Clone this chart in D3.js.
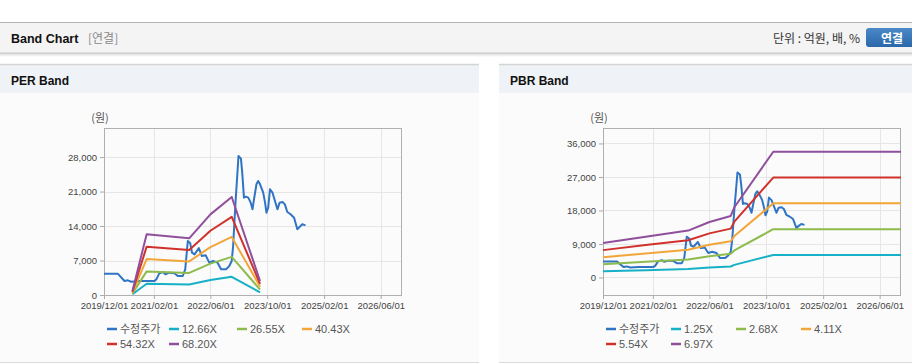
<!DOCTYPE html>
<html>
<head>
<meta charset="utf-8">
<script src="https://cdn.jsdelivr.net/npm/d3@7"></script>
<style>
  body { margin: 0; background: #fff; }
  svg { display: block; font-family: "Liberation Sans", Arial, "Noto Sans CJK KR", sans-serif; }
</style>
</head>
<body>
<svg width="912" height="364"></svg>
<script>
// ---- data ----
const xTickLabels = ["2019/12/01", "2021/02/01", "2022/06/01", "2023/10/01", "2025/02/01", "2026/06/01"];
const xDomain = ["2019-12-01", "2026-12-01"];

const priceDates = [
  "2019-12-01", "2020-03-28", "2020-05-25", "2020-06-22", "2020-07-22", "2020-10-01",
  "2021-02-07", "2021-02-22", "2021-03-19", "2021-04-19", "2021-05-10", "2021-06-13",
  "2021-07-28", "2021-08-25", "2021-10-07", "2021-10-28", "2021-11-19", "2021-12-10",
  "2021-12-25", "2022-01-16", "2022-02-22", "2022-03-19", "2022-04-22", "2022-05-22",
  "2022-06-25", "2022-08-01", "2022-09-01", "2022-10-13", "2022-11-10", "2022-12-01",
  "2022-12-13", "2023-01-01", "2023-01-28", "2023-02-18", "2023-03-01", "2023-03-16",
  "2023-04-01", "2023-04-22", "2023-05-13", "2023-05-28", "2023-06-10", "2023-07-01",
  "2023-07-16", "2023-08-01", "2023-08-28", "2023-09-13", "2023-09-25", "2023-10-10",
  "2023-10-25", "2023-11-16", "2023-12-07", "2023-12-28", "2024-01-16", "2024-02-10",
  "2024-03-01", "2024-03-22", "2024-04-19", "2024-05-19", "2024-06-16", "2024-07-07",
  "2024-07-28", "2024-08-25"
];
const priceValues = [
  4330, 4330, 2840, 2980, 2700, 2840,
  2840, 3180, 4400, 4670, 4200, 4530,
  4400, 3860, 3860, 5210, 10960, 10490,
  8590, 8250, 9540, 7920, 8050, 6560,
  6900, 6560, 5210, 5210, 5890, 6900,
  9950, 18200, 28220, 27680, 24840, 19760,
  19960, 19760, 18740, 17390, 19420, 22470,
  23140, 22470, 20770, 18740, 16710, 17730,
  21450, 20770, 19080, 17390, 18740, 18870,
  18400, 16850, 16380, 15700, 13330, 13870,
  14350, 14140
];

// PER band
const perDates = ["2020-08-01", "2020-12-01", "2021-12-01", "2022-06-01", "2022-12-01", "2023-08-01"];
const perLabels = ["12.66X", "26.55X", "40.43X", "54.32X", "68.20X"];
const per1266 = [152, 2286, 2134, 3038, 3694, 527];
const per2655 = [319, 4795, 4476, 6372, 7747, 1104];
const per4043 = [485, 7302, 6817, 9703, 11797, 1682];
const per5432 = [652, 9810, 9158, 13037, 15850, 2260];
const per6820 = [818, 12317, 11499, 16368, 19901, 2837];
const perYTicks = [0, 7000, 14000, 21000, 28000];

// PBR band
const pbrDates = ["2019-12-01", "2020-12-01", "2021-12-01", "2022-06-01", "2022-12-01", "2023-01-01", "2023-12-01", "2026-12-01"];
const pbrLabels = ["1.25X", "2.68X", "4.11X", "5.54X", "6.97X"];
const pbr125 = [1659, 1963, 2260, 2673, 2963, 3383, 6055, 6055];
const pbr268 = [3556, 4208, 4845, 5730, 6352, 7252, 12982, 12982];
const pbr411 = [5454, 6453, 7431, 8787, 9741, 11122, 19909, 19909];
const pbr554 = [7352, 8698, 10016, 11844, 13130, 14991, 26836, 26836];
const pbr697 = [9249, 10943, 12602, 14902, 16519, 18861, 33763, 33763];
const pbrYTicks = [0, 9000, 18000, 27000, 36000];

const priceLabel = "수정주가";
const colors = ["#3074c4", "#16b1c6", "#8dbb4c", "#f2a63a", "#d1312b", "#904f9c"];

// ---- page ----
const svg = d3.select("svg");
const parse = d3.timeParse("%Y-%m-%d");
const parseTick = d3.timeParse("%Y/%m/%d");

// top header bar
const defs = svg.append("defs");
const sh = defs.append("linearGradient").attr("id", "shadow").attr("x1", 0).attr("y1", 0).attr("x2", 0).attr("y2", 1);
sh.append("stop").attr("offset", "0%").attr("stop-color", "#d8d8d8");
sh.append("stop").attr("offset", "100%").attr("stop-color", "#ffffff");
const bt = defs.append("linearGradient").attr("id", "btn").attr("x1", 0).attr("y1", 0).attr("x2", 0).attr("y2", 1);
bt.append("stop").attr("offset", "0%").attr("stop-color", "#4a88c8");
bt.append("stop").attr("offset", "100%").attr("stop-color", "#2b68a9");

svg.append("rect").attr("x", 0).attr("y", 53).attr("width", 912).attr("height", 4).attr("fill", "url(#shadow)");
svg.append("rect").attr("x", 0).attr("y", 22).attr("width", 912).attr("height", 31).attr("fill", "#f4f4f4");
svg.append("line").attr("x1", 0).attr("x2", 912).attr("y1", 22.5).attr("y2", 22.5).attr("stroke", "#b4b4b4");
svg.append("line").attr("x1", 0).attr("x2", 912).attr("y1", 53).attr("y2", 53).attr("stroke", "#c4c4c4");

svg.append("text").text("Band Chart").attr("x", 11).attr("y", 43)
  .style("font-size", "12.5px").style("font-weight", "bold").attr("fill", "#111");
svg.append("text").text("[연결]").attr("x", 88).attr("y", 43)
  .style("font-size", "12px").style("font-family", "'Noto Sans CJK KR'").attr("fill", "#8a8a8a");
svg.append("text").text("단위 : 억원, 배, %").attr("x", 860).attr("y", 43).attr("text-anchor", "end")
  .style("font-size", "12px").style("font-family", "'Noto Sans CJK KR'").attr("fill", "#333");
svg.append("rect").attr("x", 866).attr("y", 28).attr("width", 52).attr("height", 19).attr("rx", 3)
  .attr("fill", "url(#btn)");
svg.append("text").text("연결").attr("x", 892).attr("y", 42.5).attr("text-anchor", "middle")
  .style("font-size", "12px").style("font-weight", "bold").style("font-family", "'Noto Sans CJK KR'").attr("fill", "#fff");

function drawPanel(cfg) {
  const p = cfg.panel;
  // panel frame
  svg.append("rect").attr("x", p.x).attr("y", 93).attr("width", p.w).attr("height", 269).attr("fill", "#fbfbfb");
  svg.append("rect").attr("x", p.x).attr("y", 64).attr("width", p.w).attr("height", 29).attr("fill", "#eff2f7");
  svg.append("line").attr("x1", p.x).attr("x2", p.x + p.w).attr("y1", 64.5).attr("y2", 64.5)
    .attr("stroke", "#d4d4d4").attr("stroke-width", 1.5);
  svg.append("line").attr("x1", p.x).attr("x2", p.x + p.w).attr("y1", 362.5).attr("y2", 362.5).attr("stroke", "#dcdcdc");
  svg.append("text").text(cfg.title).attr("x", p.x + 11).attr("y", 85)
    .style("font-size", "12px").style("font-weight", "bold").attr("fill", "#111");

  const m = cfg.plot;
  const x = d3.scaleTime().domain(xDomain.map(parse)).range([m.left, m.right]);
  const y = d3.scaleLinear().domain(cfg.yDomain).range([m.bottom, m.top]);
  const g = svg.append("g");

  // grid
  g.selectAll(".hg").data(cfg.yTicks).enter().append("line")
    .attr("x1", m.left).attr("x2", m.right)
    .attr("y1", d => Math.round(y(d)) + 0.5).attr("y2", d => Math.round(y(d)) + 0.5)
    .attr("stroke", "#e6e6e6");
  g.selectAll(".vg").data(xTickLabels.slice(1)).enter().append("line")
    .attr("x1", d => Math.round(x(parseTick(d))) + 0.5).attr("x2", d => Math.round(x(parseTick(d))) + 0.5)
    .attr("y1", m.top).attr("y2", m.bottom)
    .attr("stroke", "#e6e6e6");

  // axes
  const yAxis = d3.axisLeft(y).tickValues(cfg.yTicks).tickSize(4).tickPadding(3).tickFormat(d3.format(","));
  const yG = g.append("g").attr("transform", `translate(${m.left},0)`).call(yAxis);
  const xAxis = d3.axisBottom(x).tickValues(xTickLabels.map(parseTick)).tickSize(4).tickPadding(3)
    .tickFormat(d3.timeFormat("%Y/%m/%d"));
  const xG = g.append("g").attr("transform", `translate(0,${m.bottom})`).call(xAxis);
  [yG, xG].forEach(a => {
    a.select(".domain").remove();
    a.selectAll(".tick line").attr("stroke", "#aaa");
    a.selectAll(".tick text").attr("fill", "#444").style("font-size", "9.5px").style("font-family", "'Liberation Sans', Arial");
  });

  g.append("rect").attr("x", m.left + 0.5).attr("y", m.top + 0.5)
    .attr("width", m.right - m.left - 1).attr("height", m.bottom - m.top)
    .attr("fill", "none").attr("stroke", "#b0b0b0");

  g.append("text").text("(원)").attr("x", m.left - 4).attr("y", 122).attr("text-anchor", "middle")
    .style("font-size", "11px").style("font-family", "'Noto Sans CJK KR'").attr("fill", "#555");

  // series
  const line = d3.line().x(d => x(d.date)).y(d => y(d.value));
  const series = [{ name: priceLabel, dates: priceDates, values: priceValues }]
    .concat(cfg.bands.map((vals, i) => ({ name: cfg.labels[i], dates: cfg.dates, values: vals })));
  series.forEach((s, i) => {
    const pts = s.dates.map((d, j) => ({ date: parse(d), value: s.values[j] }));
    g.append("path").datum(pts).attr("d", line)
      .attr("fill", "none").attr("stroke", colors[i]).attr("stroke-width", 2)
      .attr("stroke-linejoin", "round");
  });

  // legend
  const leg = g.append("g").attr("transform", `translate(${cfg.legendX},0)`);
  series.forEach((s, i) => {
    const col = i % 4, row = Math.floor(i / 4);
    const lx = cfg.legendCols[col], ly = 329 + row * 15;
    leg.append("line").attr("x1", lx).attr("x2", lx + 10).attr("y1", ly).attr("y2", ly)
      .attr("stroke", colors[i]).attr("stroke-width", 2.5);
    leg.append("text").text(s.name).attr("x", lx + 13).attr("y", ly + 4)
      .style("font-size", "11px")
      .style("font-family", i === 0 ? "'Noto Sans CJK KR'" : "'Liberation Sans', Arial")
      .attr("fill", "#555");
  });
}

drawPanel({
  title: "PER Band",
  panel: { x: 0, w: 479 },
  plot: { left: 104, right: 402, top: 128, bottom: 295 },
  yDomain: [0, 33900],
  yTicks: perYTicks,
  dates: perDates,
  bands: [per1266, per2655, per4043, per5432, per6820],
  labels: perLabels,
  legendX: 107,
  legendCols: [0, 62, 130, 195]
});

drawPanel({
  title: "PBR Band",
  panel: { x: 499, w: 413 },
  plot: { left: 603, right: 901, top: 128, bottom: 295 },
  yDomain: [-4700, 40150],
  yTicks: pbrYTicks,
  dates: pbrDates,
  bands: [pbr125, pbr268, pbr411, pbr554, pbr697],
  labels: pbrLabels,
  legendX: 606,
  legendCols: [0, 65, 130, 195]
});
</script>
</body>
</html>
